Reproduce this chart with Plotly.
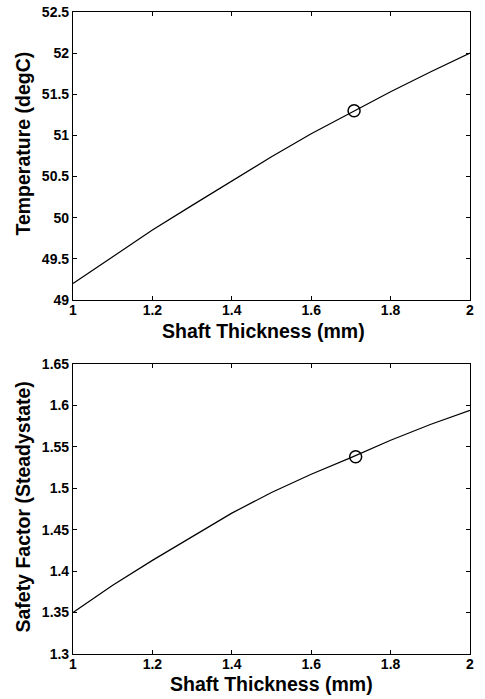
import plotly.graph_objects as go

thickness = [1.0, 1.1, 1.2, 1.3, 1.4, 1.5, 1.6, 1.7, 1.8, 1.9, 2.0]
temperature = [49.2, 49.53, 49.85, 50.15, 50.45, 50.74, 51.02, 51.28, 51.53, 51.77, 52.0]
safety = [1.35, 1.383, 1.413, 1.442, 1.470, 1.495, 1.517, 1.537, 1.558, 1.577, 1.594]

opt_x_temp = [1.708]
opt_temp = [51.30]
opt_x_sf = [1.712]
opt_sf = [1.538]

x_ticks = [1, 1.2, 1.4, 1.6, 1.8, 2]
x_ticklabels = ["1", "1.2", "1.4", "1.6", "1.8", "2"]
temp_ticks = [49, 49.5, 50, 50.5, 51, 51.5, 52, 52.5]
temp_ticklabels = ["49", "49.5", "50", "50.5", "51", "51.5", "52", "52.5"]
sf_ticks = [1.3, 1.35, 1.4, 1.45, 1.5, 1.55, 1.6, 1.65]
sf_ticklabels = ["1.3", "1.35", "1.4", "1.45", "1.5", "1.55", "1.6", "1.65"]

x_title = "Shaft Thickness (mm)"
temp_title = "Temperature (degC)"
sf_title = "Safety Factor (Steadystate)"

FONT = "Liberation Sans, Arial, sans-serif"

fig = go.Figure()
fig.add_trace(go.Scatter(x=thickness, y=temperature, mode="lines",
                         line=dict(color="black", width=1.2), xaxis="x", yaxis="y"))
fig.add_trace(go.Scatter(x=opt_x_temp, y=opt_temp, mode="markers",
                         marker=dict(symbol="circle-open", size=12, color="black", line=dict(width=1.5)),
                         xaxis="x", yaxis="y"))
fig.add_trace(go.Scatter(x=thickness, y=safety, mode="lines",
                         line=dict(color="black", width=1.2), xaxis="x2", yaxis="y2"))
fig.add_trace(go.Scatter(x=opt_x_sf, y=opt_sf, mode="markers",
                         marker=dict(symbol="circle-open", size=12, color="black", line=dict(width=1.5)),
                         xaxis="x2", yaxis="y2"))

axis_common = dict(showgrid=False, zeroline=False, showline=True, linecolor="black", linewidth=1.2,
                   mirror="ticks", ticks="inside", ticklen=4, tickcolor="black", tickwidth=1,
                   automargin=False,
                   tickfont=dict(family=FONT, size=14, color="black", weight="bold"))
xaxis_extra = dict(ticklabelstandoff=-3)
title_font = dict(family=FONT, size=19.5, color="black", weight="bold")

fig.update_layout(
    template="none",
    width=485, height=699,
    margin=dict(l=73, r=15, t=12, b=45, pad=0, autoexpand=False),
    paper_bgcolor="white", plot_bgcolor="white",
    showlegend=False,
    xaxis=dict(**axis_common, **xaxis_extra, domain=[0, 1], anchor="y", range=[1, 2],
               tickvals=x_ticks, ticktext=x_ticklabels),
    yaxis=dict(**axis_common, domain=[0.5514, 1], anchor="x", range=[49, 52.5], tickvals=temp_ticks,
               ticktext=temp_ticklabels),
    xaxis2=dict(**axis_common, **xaxis_extra, domain=[0, 1], anchor="y2", range=[1, 2],
                tickvals=x_ticks, ticktext=x_ticklabels),
    yaxis2=dict(**axis_common, domain=[0, 0.4517], anchor="x2", range=[1.3, 1.65], tickvals=sf_ticks,
                ticktext=sf_ticklabels),
    annotations=[
        dict(text=x_title, xref="paper", yref="paper", x=0.479, y=0.503, xanchor="center", yanchor="middle",
             showarrow=False, font=title_font),
        dict(text=x_title, xref="paper", yref="paper", x=0.501, y=-0.0465, xanchor="center", yanchor="middle",
             showarrow=False, font=title_font),
        dict(text=temp_title, xref="paper", yref="paper", x=-0.127, y=0.7944, xanchor="center", yanchor="middle",
             textangle=-90, showarrow=False, font=title_font),
        dict(text=sf_title, xref="paper", yref="paper", x=-0.127, y=0.229, xanchor="center", yanchor="middle",
             textangle=-90, showarrow=False, font=title_font),
    ],
)

fig.write_html("out.html", config={"displayModeBar": False},
               post_script="document.body.style.margin='0';")
